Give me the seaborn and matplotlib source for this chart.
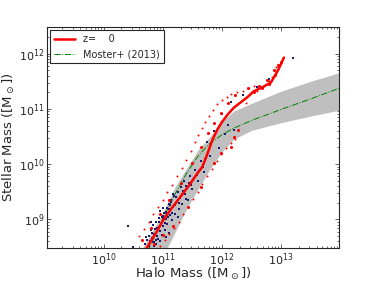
import numpy as np
import pandas as pd
import seaborn as sns
import matplotlib.pyplot as plt

# log10 values
med_x = [10.65, 10.74, 10.90, 11.01, 11.15, 11.30, 11.45, 11.59, 11.67, 11.76, 11.84,
         11.93, 12.00, 12.10, 12.20, 12.32, 12.44, 12.54, 12.70, 12.83, 12.95, 13.05]
med_y = [8.35, 8.50, 8.78, 8.99, 9.20, 9.41, 9.62, 9.84, 9.95, 10.20, 10.44,
         10.64, 10.76, 10.90, 11.02, 11.12, 11.22, 11.32, 11.40, 11.48, 11.70, 11.93]

moster_x = [10.6, 10.8, 11.0, 11.2, 11.4, 11.6, 11.8, 12.0, 12.2, 12.5, 13.0, 13.5, 14.0]
moster_y = [8.08, 8.55, 9.01, 9.44, 9.83, 10.15, 10.38, 10.53, 10.65, 10.79, 10.99, 11.18, 11.38]

band_x = [10.5, 10.67, 10.8, 11.0, 11.2, 11.4, 11.6, 11.8, 12.0, 12.2, 12.5, 13.0, 13.5, 14.0]
band_hi = [8.18, 8.50, 8.74, 9.12, 9.57, 9.92, 10.26, 10.50, 10.77, 10.96, 11.10, 11.32, 11.50, 11.66]
band_lo = [7.60, 7.75, 7.95, 8.32, 8.75, 9.18, 9.55, 9.91, 10.22, 10.45, 10.61, 10.75, 10.87, 10.98]

red_big_x = [10.65, 10.80, 10.95, 11.10, 11.30, 11.50, 11.64, 11.76, 11.86, 11.98, 12.10, 12.23,
             12.45, 12.62, 12.77, 12.88, 12.95, 13.00,
             10.85, 11.00, 11.18, 11.42, 11.64, 11.86, 11.98, 12.15, 12.20, 12.28,
             12.55, 12.68, 12.80, 12.90]
red_big_y = [8.63, 8.85, 9.10, 9.35, 9.66, 10.02, 10.31, 10.56, 10.74, 10.92, 11.10, 11.25,
             11.37, 11.42, 11.52, 11.70, 11.80, 11.85,
             8.55, 8.72, 8.87, 9.23, 9.59, 10.02, 10.20, 10.31, 10.49, 10.62,
             11.30, 11.38, 11.45, 11.62]

red_small_x = [10.60, 10.68, 10.76, 10.84, 10.92, 11.00, 11.08, 11.16, 11.24, 11.32, 11.40,
               11.47, 11.54, 11.60, 11.66, 11.72, 11.78, 11.85, 11.92, 12.00, 12.08, 12.16,
               12.25, 12.35, 12.45, 12.55,
               10.95, 11.03, 11.11, 11.19, 11.27, 11.35, 11.43, 11.51, 11.59, 11.67, 11.75,
               11.83, 11.91, 11.99, 12.07, 12.15, 12.23,
               12.40, 12.60, 12.72, 12.80, 12.85, 12.92]
red_small_y = [8.70, 8.83, 8.96, 9.09, 9.22, 9.35, 9.49, 9.63, 9.78, 9.93, 10.08,
               10.24, 10.40, 10.53, 10.65, 10.76, 10.88, 10.98, 11.08, 11.16, 11.22, 11.27,
               11.30, 11.33, 11.37, 11.42,
               8.52, 8.62, 8.73, 8.84, 8.96, 9.09, 9.22, 9.36, 9.50, 9.64, 9.78,
               9.92, 10.06, 10.18, 10.29, 10.38, 10.46,
               11.10, 11.33, 11.42, 11.50, 11.58, 11.75]

navy_x = [10.42, 10.50, 10.70, 10.74, 10.76, 10.78, 10.80, 10.82, 10.84, 10.85, 10.86, 10.88,
          10.90, 10.91, 10.93, 10.95, 10.96, 10.98, 11.00, 11.02, 11.03, 11.05, 11.07, 11.08,
          11.10, 11.12, 11.14, 11.15, 11.17, 11.19, 11.20, 11.22, 11.25, 11.27, 11.29, 11.31,
          11.33, 11.36, 11.38, 11.40, 11.43, 11.46, 11.50, 11.55, 11.60, 11.65, 11.70, 11.75,
          11.80, 11.86, 11.95, 12.00, 12.05, 12.10, 12.15, 12.20, 12.35, 12.60, 12.80, 13.21,
          10.95, 11.10, 10.80, 11.00, 11.18, 11.26, 10.88, 11.05,
          10.72, 10.77, 10.81, 10.83, 10.87, 10.89, 10.92, 10.94, 10.97, 10.99, 11.01, 11.04,
          11.06, 11.09, 11.11, 11.13, 11.16, 11.21, 11.23, 11.28, 11.32, 11.35, 11.39, 11.44,
          11.48, 11.52, 11.58, 11.62, 11.68, 11.72, 10.79, 10.86, 10.93, 11.00, 11.08, 11.14]
navy_y = [8.88, 8.50, 8.55, 8.62, 8.70, 8.58, 8.80, 8.66, 8.90, 8.52, 8.74, 8.62,
          8.85, 8.70, 8.96, 8.78, 8.60, 9.05, 8.88, 9.12, 8.80, 9.00, 9.20, 8.92,
          9.28, 9.08, 9.35, 8.98, 9.22, 9.42, 9.10, 9.30, 9.50, 9.18, 9.38, 9.58,
          9.28, 9.70, 9.45, 9.60, 9.35, 9.78, 9.55, 9.90, 9.70, 10.05, 9.85, 10.40,
          10.15, 10.60, 10.30, 10.90, 10.55, 10.70, 11.12, 10.62, 11.25, 11.40, 11.55, 11.93,
          9.15, 8.75, 8.95, 9.20, 9.45, 9.05, 8.55, 8.68,
          8.68, 8.52, 8.75, 8.58, 8.82, 8.95, 8.64, 8.86, 8.92, 8.72, 9.02, 8.94,
          9.14, 9.04, 9.18, 9.25, 9.12, 9.26, 9.40, 9.30, 9.46, 9.52, 9.36, 9.66,
          9.62, 9.74, 9.80, 9.88, 9.95, 10.10, 8.60, 8.58, 9.02, 9.06, 9.10, 9.32]

sns.set_style("ticks", {"xtick.direction": "in", "ytick.direction": "in",
                        "axes.edgecolor": "0.15"})
plt.rcParams["font.family"] = ["DejaVu Sans"]
plt.rcParams["mathtext.default"] = "regular"

fig, ax = plt.subplots(figsize=(3.76, 2.82), dpi=100)
fig.subplots_adjust(left=0.125, right=0.901, bottom=0.12, top=0.903)
ax.set_xscale("log")
ax.set_yscale("log")

# shaded Moster+ (2013) range
ax.fill_between(10 ** np.array(band_x), 10 ** np.array(band_lo), 10 ** np.array(band_hi),
                color="0.75", lw=0, zorder=1)

# scatter of individual haloes
sns.scatterplot(x=10 ** np.array(navy_x), y=10 ** np.array(navy_y), ax=ax, color="#1a1a6e",
                marker="s", s=2.5, linewidth=0, zorder=3)
sns.scatterplot(x=10 ** np.array(red_small_x), y=10 ** np.array(red_small_y), ax=ax,
                color="red", s=2, linewidth=0, zorder=3)
sns.scatterplot(x=10 ** np.array(red_big_x), y=10 ** np.array(red_big_y), ax=ax,
                color="red", s=5, linewidth=0, zorder=3)

median = pd.DataFrame({"x": 10 ** np.array(med_x), "y": 10 ** np.array(med_y)})
sns.lineplot(data=median, x="x", y="y", ax=ax, color="red", lw=1.8, label="z=    0", zorder=4)

moster = pd.DataFrame({"x": 10 ** np.array(moster_x), "y": 10 ** np.array(moster_y)})
sns.lineplot(data=moster, x="x", y="y", ax=ax, color="green", lw=0.7, linestyle="-.",
             label="Moster+ (2013)", zorder=2)

ax.set_xlim(1.1e9, 9.5e13)
ax.set_ylim(3e8, 3e12)
ax.tick_params(which="both", top=True, right=True, labelsize=8, width=0.5, pad=2)
ax.tick_params(which="major", length=3)
ax.tick_params(which="minor", length=1.5)
for sp in ax.spines.values():
    sp.set_linewidth(0.8)

ax.set_xlabel(r"Halo Mass ([M$_\odot$])", size=9.5, labelpad=-1)
ax.set_ylabel(r"Stellar Mass ([M$_\odot$])", size=9.5, labelpad=1)

leg = ax.legend(loc="upper left", fontsize=7, fancybox=False, framealpha=1,
                edgecolor="0.15", handlelength=2.2, borderaxespad=0.3)
leg.get_frame().set_linewidth(0.8)

plt.savefig("out.png", dpi=100)
